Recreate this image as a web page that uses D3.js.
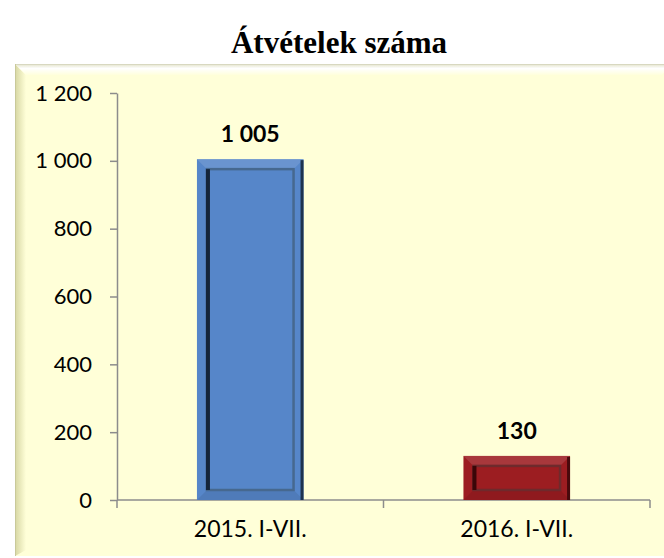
<!DOCTYPE html>
<html>
<head>
<meta charset="utf-8">
<script src="https://cdn.jsdelivr.net/npm/d3@7"></script>
<style>
  html, body { margin: 0; padding: 0; background: #ffffff; }
  svg { display: block; }
</style>
</head>
<body>
<svg id="chart" width="664" height="558"></svg>
<script>
// Number of takeovers, January–July of each year
const categories = ["2015. I-VII.", "2016. I-VII."];
const values = [1005, 130];
const yTicks = [0, 200, 400, 600, 800, 1000, 1200];
const barColors = ["#5686c9", "#9c1d21"];
const barDark = ["#14243a", "#3a0608"];
const barEdge = ["#46688f", "#6e2a2c"];
const title = "Átvételek száma";

const svg = d3.select("#chart");

// Hungarian-style thousands separator (space)
const fmt = v => d3.format(",")(v).replace(/,/g, " ");

// Panel background with bevelled edges
const defs = svg.append("defs");
const gl = defs.append("linearGradient").attr("id", "bevelLeft").attr("x1", 0).attr("x2", 1);
gl.append("stop").attr("offset", 0).attr("stop-color", "#d6d6a2");
gl.append("stop").attr("offset", 1).attr("stop-color", "#ffffd8");
const gt = defs.append("linearGradient").attr("id", "bevelTop").attr("x1", 0).attr("x2", 0).attr("y1", 0).attr("y2", 1);
gt.append("stop").attr("offset", 0).attr("stop-color", "#e2e2c8");
gt.append("stop").attr("offset", 0.4).attr("stop-color", "#ffffff");
gt.append("stop").attr("offset", 1).attr("stop-color", "#ffffdc");

const px0 = 15, py0 = 64, px1 = 672, py1 = 556;
svg.append("rect").attr("x", px0).attr("y", py0).attr("width", px1 - px0).attr("height", py1 - py0)
  .attr("fill", "#ffffd8");
svg.append("path")
  .attr("d", `M${px0},${py0} L${px0 + 11},${py0 + 11} L${px0 + 11},${py1 - 6} L${px0},${py1} Z`)
  .attr("fill", "url(#bevelLeft)");
svg.append("path")
  .attr("d", `M${px0},${py0} L${px1},${py0} L${px1 - 10},${py0 + 11} L${px0 + 11},${py0 + 11} Z`)
  .attr("fill", "url(#bevelTop)");
svg.append("line").attr("x1", px0).attr("x2", px1).attr("y1", py0 + 0.5).attr("y2", py0 + 0.5)
  .attr("stroke", "#d8d8c0").attr("stroke-width", 1);
svg.append("line").attr("x1", px0 + 0.5).attr("x2", px0 + 0.5).attr("y1", py0).attr("y2", py1)
  .attr("stroke", "#c9c99a").attr("stroke-width", 1);

// Title
svg.append("text")
  .attr("x", 339).attr("y", 53)
  .attr("text-anchor", "middle")
  .attr("font-family", "'Liberation Serif', 'Times New Roman', serif")
  .attr("font-weight", "bold")
  .attr("font-size", 31)
  .attr("fill", "#000")
  .text(title);

// Scales
const x = d3.scaleBand().domain(categories).range([117, 650]).paddingInner(0.6).paddingOuter(0.3);
const y = d3.scaleLinear().domain([0, 1200]).range([500, 93]);

// Y axis
const yAxis = svg.append("g").attr("transform", "translate(117,0)")
  .call(d3.axisLeft(y).tickValues(yTicks).tickFormat(fmt).tickSize(7).tickSizeOuter(0).tickPadding(18));
yAxis.select(".domain").attr("stroke", "#8c8c8c").attr("stroke-width", 1.5);
yAxis.selectAll(".tick line").attr("stroke", "#8c8c8c").attr("stroke-width", 1.5);
yAxis.selectAll(".tick text")
  .attr("font-family", "Lato, 'Open Sans', sans-serif")
  .attr("font-size", 22).attr("fill", "#000");

// X axis: category boundary ticks
const xAxisG = svg.append("g");
xAxisG.append("line").attr("x1", 117).attr("x2", 650).attr("y1", y(0)).attr("y2", y(0))
  .attr("stroke", "#8c8c8c").attr("stroke-width", 1.5);
const bounds = [117].concat(categories.map(c => x(c) + x.bandwidth() / 2 + x.step() / 2));
bounds[bounds.length - 1] = 650;
xAxisG.selectAll("line.b").data(bounds).join("line").attr("class", "b")
  .attr("x1", d => d).attr("x2", d => d).attr("y1", y(0)).attr("y2", y(0) + 8)
  .attr("stroke", "#8c8c8c").attr("stroke-width", 1.5);
xAxisG.selectAll("text").data(categories).join("text")
  .attr("x", d => x(d) + x.bandwidth() / 2)
  .attr("y", 537)
  .attr("text-anchor", "middle")
  .attr("font-family", "Lato, 'Open Sans', sans-serif")
  .attr("font-size", 23).attr("fill", "#000")
  .text(d => d);

// Bevelled bars
const bars = svg.append("g");
categories.forEach((c, i) => {
  const bx = x(c), bw = x.bandwidth();
  const top = y(values[i]), bot = y(0);
  const bh = bot - top;
  const r = Math.min(10, bh / 4);
  const g = bars.append("g");
  g.append("rect").attr("x", bx).attr("y", top).attr("width", bw).attr("height", bh)
    .attr("fill", barColors[i]);
  // lighter top rim
  g.append("path")
    .attr("d", `M${bx},${top} L${bx + bw},${top} L${bx + bw - r},${top + r} L${bx + r},${top + r} Z`)
    .attr("fill", "#ffffff").attr("opacity", 0.12);
  // darker bottom rim
  g.append("path")
    .attr("d", `M${bx},${bot} L${bx + bw},${bot} L${bx + bw - r},${bot - r} L${bx + r},${bot - r} Z`)
    .attr("fill", "#000").attr("opacity", 0.08);
  // dark right outer edge
  g.append("rect").attr("x", bx + bw - 3).attr("y", top + 1).attr("width", 3).attr("height", bh - 1)
    .attr("fill", barDark[i]).attr("opacity", 0.85);
  // inner panel outline
  g.append("rect").attr("x", bx + r).attr("y", top + r).attr("width", bw - 2 * r).attr("height", bh - 2 * r)
    .attr("fill", "none").attr("stroke", barEdge[i]).attr("stroke-width", 2.5);
  // inner left shadow
  g.append("rect").attr("x", bx + r - 1).attr("y", top + r).attr("width", 4).attr("height", bh - 2 * r)
    .attr("fill", barDark[i]);
  // value label
  svg.append("text")
    .attr("x", bx + bw / 2).attr("y", top - 17)
    .attr("text-anchor", "middle")
    .attr("font-family", "Lato, 'Open Sans', sans-serif")
    .attr("font-weight", "bold")
    .attr("font-size", 23).attr("fill", "#000")
    .text(fmt(values[i]));
});
</script>
</body>
</html>
